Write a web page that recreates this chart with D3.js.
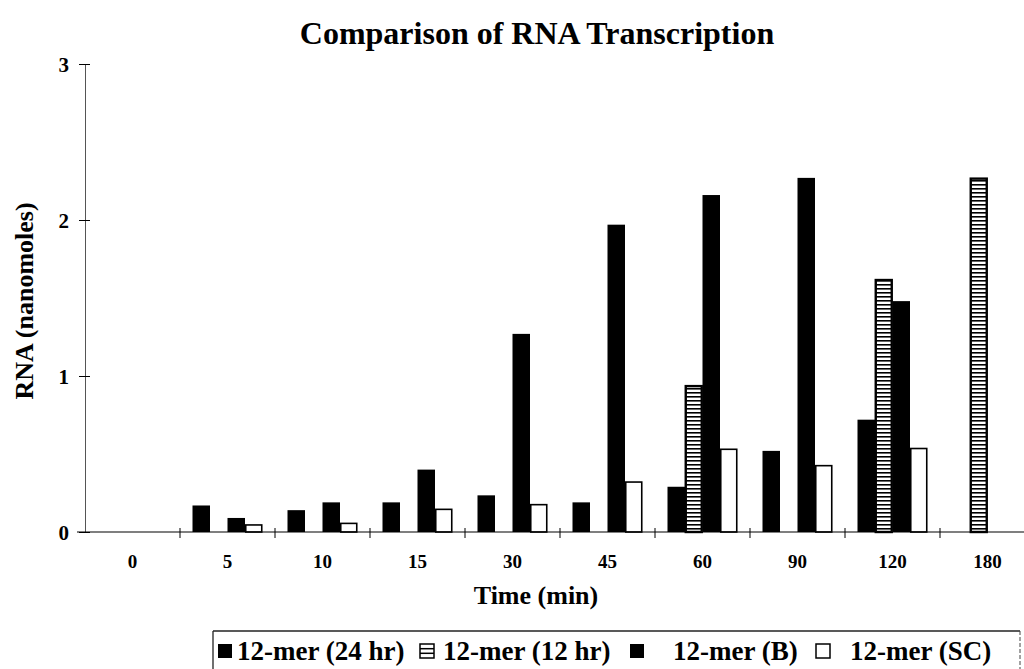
<!DOCTYPE html>
<html>
<head>
<meta charset="utf-8">
<script src="https://cdn.jsdelivr.net/npm/d3@7"></script>
<style>
  html, body { margin: 0; padding: 0; background: #fff; }
  svg text { font-family: "Liberation Serif", "Times New Roman", serif; font-weight: bold; fill: #000; }
</style>
</head>
<body>
<svg id="chart" width="1024" height="669"></svg>
<script>
// Time points (min) on the category axis
const times = ["0", "5", "10", "15", "30", "45", "60", "90", "120", "180"];
// RNA produced (nanomoles) for each construct; null = not measured
const mer24hr = [null, 0.17, 0.14, 0.19, 0.235, 0.19, 0.29, 0.52, 0.72, null];
const mer12hr = [null, null, null, null, null, null, 0.94, null, 1.62, 2.27];
const merB    = [null, 0.09, 0.19, 0.40, 1.27, 1.97, 2.16, 2.27, 1.48, null];
const merSC   = [null, 0.05, 0.06, 0.15, 0.18, 0.325, 0.535, 0.43, 0.54, null];
const seriesNames = ["12-mer (24 hr)", "12-mer (12 hr)", "12-mer (B)", "12-mer (SC)"];
const yTicks = [0, 1, 2, 3];

const seriesValues = [mer24hr, mer12hr, merB, merSC];
const seriesStyle = ["solid", "hatch", "solid", "open"];

const svg = d3.select("#chart");

// horizontal-stripe fill
const defs = svg.append("defs");
const pat = defs.append("pattern")
  .attr("id", "hstripe").attr("patternUnits", "userSpaceOnUse")
  .attr("width", 6).attr("height", 4);
pat.append("rect").attr("width", 6).attr("height", 4).attr("fill", "#fff");
pat.append("rect").attr("y", 0).attr("width", 6).attr("height", 1.6).attr("fill", "#000");

const x = d3.scaleBand().domain(times).range([85, 1035]).paddingInner(0).paddingOuter(0);
const xs = d3.scaleBand().domain(seriesNames).range([12.5, 82.5]);
const y = d3.scaleLinear().domain([0, 3]).range([532, 64]);

// bars
const rows = [];
seriesValues.forEach((vals, si) => {
  vals.forEach((v, ci) => {
    if (v !== null) rows.push({ t: times[ci], s: seriesNames[si], v, style: seriesStyle[si] });
  });
});

svg.append("g").selectAll("rect").data(rows).join("rect")
  .attr("x", d => x(d.t) + xs(d.s) + (d.style === "solid" ? 0 : 0.75))
  .attr("y", d => y(d.v) + (d.style === "solid" ? 0 : 0.75))
  .attr("width", d => xs.bandwidth() - (d.style === "solid" ? 0 : 1.5))
  .attr("height", d => y(0) - y(d.v) - (d.style === "solid" ? 0 : 0.75))
  .attr("fill", d => d.style === "solid" ? "#000" : d.style === "hatch" ? "url(#hstripe)" : "#fff")
  .attr("stroke", d => d.style === "solid" ? "none" : "#000")
  .attr("stroke-width", d => d.style === "hatch" ? 2.4 : 1.6);

// y axis
const yAxis = svg.append("g").attr("transform", "translate(85,0)")
  .call(d3.axisLeft(y).tickValues(yTicks).tickFormat(d3.format("d")).tickSize(6).tickPadding(10));
yAxis.select(".domain").attr("stroke", "#555").attr("stroke-width", 1);
yAxis.selectAll(".tick line").attr("x1", 5).attr("stroke", "#000");
yAxis.selectAll(".tick text")
  .attr("font-size", 21)
  .attr("dy", "0.36em");

// x axis: labels centred in each band, ticks on band boundaries
const xAxis = svg.append("g").attr("transform", "translate(0,532)")
  .call(d3.axisBottom(x).tickSize(0).tickPadding(23));
xAxis.select(".domain").remove();
xAxis.selectAll(".tick text")
  .attr("font-size", 19);
xAxis.append("line").attr("x1", 77).attr("x2", 1024).attr("y1", 0).attr("y2", 0)
  .attr("stroke", "#000").attr("stroke-width", 1.2);
xAxis.selectAll("line.bound").data(times.slice(1)).join("line")
  .attr("class", "bound")
  .attr("x1", d => x(d)).attr("x2", d => x(d))
  .attr("y1", -4).attr("y2", 6)
  .attr("stroke", "#000").attr("stroke-width", 1);

// titles
svg.append("text")
  .attr("x", 537).attr("y", 44)
  .attr("text-anchor", "middle").attr("font-size", 32)
  .text("Comparison of RNA Transcription");

svg.append("text")
  .attr("x", 536).attr("y", 604)
  .attr("text-anchor", "middle").attr("font-size", 26)
  .text("Time (min)");

svg.append("text")
  .attr("transform", "translate(33,301) rotate(-90)")
  .attr("text-anchor", "middle").attr("font-size", 26)
  .text("RNA (nanomoles)");

// legend frame: solid top and left edges, dashed right edge
const lg = svg.append("g");
lg.append("line").attr("x1", 213).attr("x2", 1020).attr("y1", 631).attr("y2", 631)
  .attr("stroke", "#222").attr("stroke-width", 1.3);
lg.append("line").attr("x1", 213).attr("x2", 213).attr("y1", 631).attr("y2", 669)
  .attr("stroke", "#222").attr("stroke-width", 1.3);
lg.append("line").attr("x1", 1020).attr("x2", 1020).attr("y1", 631).attr("y2", 669)
  .attr("stroke", "#444").attr("stroke-width", 1).attr("stroke-dasharray", "4,2");

const legendItems = [
  { name: seriesNames[0], style: "solid", sx: 218, tx: 237 },
  { name: seriesNames[1], style: "hatch", sx: 420, tx: 443 },
  { name: seriesNames[2], style: "solid", sx: 630, tx: 673 },
  { name: seriesNames[3], style: "open",  sx: 816, tx: 850 }
];
const li = lg.selectAll("g.item").data(legendItems).join("g").attr("class", "item");
li.append("rect")
  .attr("x", d => d.sx).attr("y", 644).attr("width", 14).attr("height", 14)
  .attr("fill", d => d.style === "solid" ? "#000" : "#fff")
  .attr("stroke", "#000").attr("stroke-width", d => d.style === "solid" ? 0 : 1.5);
li.filter(d => d.style === "hatch").selectAll("line.h").data([648.7, 653.3]).join("line")
  .attr("class", "h")
  .attr("x1", function () { return d3.select(this.parentNode).datum().sx; })
  .attr("x2", function () { return d3.select(this.parentNode).datum().sx + 14; })
  .attr("y1", d => d).attr("y2", d => d)
  .attr("stroke", "#000").attr("stroke-width", 1.5);
li.append("text")
  .attr("x", d => d.tx).attr("y", 660)
  .attr("font-size", 27)
  .text(d => d.name);
</script>
</body>
</html>
